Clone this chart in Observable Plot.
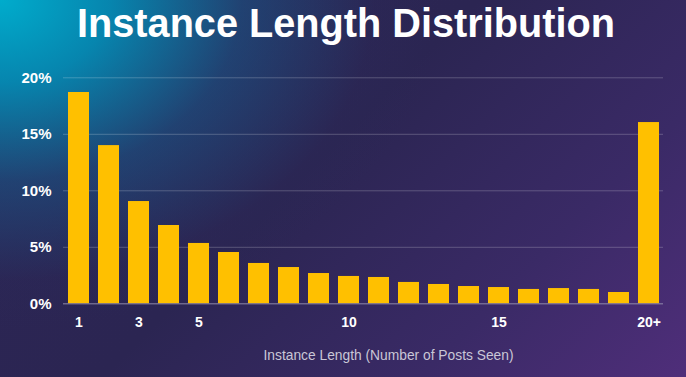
<!DOCTYPE html>
<html>
<head>
<meta charset="utf-8">
<script src="https://cdn.jsdelivr.net/npm/d3@7"></script>
<script src="https://cdn.jsdelivr.net/npm/@observablehq/plot@0.6"></script>
<style>
  html, body { margin: 0; padding: 0; }
  body { width: 686px; height: 377px; overflow: hidden; }
  #chart {
    position: relative;
    width: 686px; height: 377px;
    background:
      radial-gradient(ellipse 440px 330px at 0px 0px, rgba(0,172,204,1) 0%, rgba(0,150,190,0.85) 25%, rgba(20,100,150,0.45) 55%, rgba(40,50,100,0.1) 85%, rgba(40,40,90,0) 100%),
      linear-gradient(135deg, #2c2656 0%, #2b2552 45%, #3a2a66 75%, #4f2e7a 100%);
    font-family: "Liberation Sans", Arial, sans-serif;
  }
  #title { display: block; }
  #plot svg { display: block; background: transparent; }
</style>
</head>
<body>
<div id="chart">
  <svg id="title" width="686" height="60">
    <text x="346" y="37" text-anchor="middle" fill="#ffffff" font-family="Liberation Sans, Arial, sans-serif"
          font-weight="bold" font-size="40" textLength="538" lengthAdjust="spacingAndGlyphs">Instance Length Distribution</text>
  </svg>
  <div id="plot"></div>
</div>
<script>
const categories = ["1","2","3","4","5","6","7","8","9","10","11","12","13","14","15","16","17","18","19","20+"];
const shares = [18.7, 14.0, 9.05, 6.93, 5.34, 4.54, 3.57, 3.21, 2.68, 2.42, 2.33, 1.89, 1.71, 1.53, 1.44, 1.27, 1.35, 1.27, 1.0, 16.04];
const xTicks = ["1","3","5","10","15","20+"];
const yTicks = [0, 5, 10, 15, 20];
const xTitle = "Instance Length (Number of Posts Seen)";

const data = categories.map((c, i) => ({cat: c, value: shares[i]}));

const plot = Plot.plot({
  width: 686,
  height: 317,
  marginLeft: 63,
  marginRight: 23,
  marginTop: 17.3,
  marginBottom: 73.7,
  style: {background: "transparent", color: "#ffffff", fontFamily: "Liberation Sans, Arial, sans-serif"},
  x: {domain: categories, paddingInner: 0.3, paddingOuter: 0.15, label: null},
  y: {domain: [0, 20], label: null},
  marks: [
    Plot.gridY(yTicks, {stroke: "#ffffff", strokeOpacity: 0.22, strokeWidth: 1}),
    Plot.barY(data, {x: "cat", y: "value", fill: "#FFC000"}),
    Plot.ruleY([0], {stroke: "#8a84a8", strokeOpacity: 0.8, strokeWidth: 1}),
    Plot.axisY(yTicks, {tickSize: 0, tickPadding: 12, tickFormat: d => d + "%", fontSize: 15, fontWeight: "bold", fill: "#ffffff", label: null}),
    Plot.axisX(xTicks, {tickSize: 0, tickPadding: 13, fontSize: 14, fontWeight: "bold", fill: "#ffffff", label: null}),
    Plot.text([xTitle], {frameAnchor: "bottom", dx: 25, dy: 56, fontSize: 13.8, fill: "#c9c6d6", text: d => d})
  ]
});
document.getElementById("plot").appendChild(plot);
</script>
</body>
</html>
